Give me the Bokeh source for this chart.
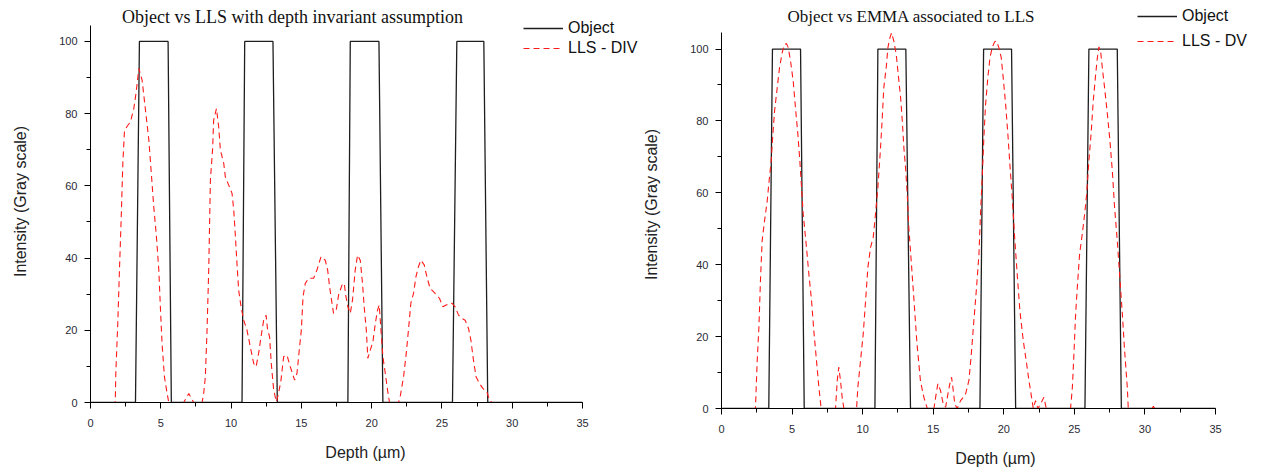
from bokeh.plotting import figure
from bokeh.layouts import row
from bokeh.models import Range1d, SingleIntervalTicker, Legend, LegendItem, Label
from bokeh.embed import file_html
from bokeh.resources import INLINE

# ---------------- data ----------------
# Left chart: Object vs LLS with depth invariant assumption
obj_left_x = [0, 3.20, 3.48, 5.52, 5.75, 10.78, 10.97, 12.98, 13.29,
              18.31, 18.48, 20.52, 20.80, 25.75, 26.06, 27.98, 28.26, 35]
obj_left_y = [0, 0, 100, 100, 0, 0, 100, 100, 0,
              0, 100, 100, 0, 0, 100, 100, 0, 0]

lls_div_x = [0, 1.54, 1.76, 1.80, 1.94, 2.06, 2.18, 2.30, 2.42, 2.61, 2.84, 3.08, 3.25, 3.44,
             3.67, 3.91, 4.15, 4.31, 4.50, 4.69, 4.86, 4.97, 5.09, 5.26, 5.45, 5.57, 6.63,
             6.99, 7.34, 7.94, 8.05, 8.17, 8.29, 8.41, 8.53, 8.69, 8.76, 8.96, 9.12, 9.24,
             9.48, 9.59, 9.83, 10.07, 10.19, 10.31, 10.42, 10.54, 10.71, 10.90, 11.13, 11.37,
             11.61, 11.78, 11.96, 12.13, 12.32, 12.49, 12.60, 12.74, 12.86, 13.03, 13.22,
             13.38, 13.55, 13.74, 13.98, 14.21, 14.52, 14.69, 14.85, 15.00, 15.12, 15.28,
             15.52, 15.87, 16.11, 16.40, 16.70, 16.87, 17.01, 17.18, 17.29, 17.48, 17.65,
             17.89, 18.05, 18.17, 18.31, 18.48, 18.64, 18.83, 19.00, 19.19, 19.35, 19.47,
             19.62, 19.73, 19.90, 20.09, 20.26, 20.42, 20.54, 20.66, 20.80, 20.97, 21.13,
             21.27, 21.91, 22.03, 22.27, 22.46, 22.62, 22.79, 22.98, 23.15, 23.33, 23.50,
             23.74, 23.93, 24.16, 24.52, 24.83, 25.07, 25.30, 25.71, 25.94, 26.18, 26.42,
             26.65, 26.89, 27.06, 27.24, 27.43, 27.67, 27.91, 28.19, 28.38, 28.55, 32.0]
lls_div_y = [0, 0, 0, 8.1, 21.9, 36.7, 50.5, 66.2, 75.4, 76.5, 77.7, 81.4, 86.0, 92.5,
             89.3, 81.0, 72.7, 64.3, 54.2, 45.9, 36.7, 26.5, 16.4, 7.1, 2.5, 0, 0,
             2.5, 0, 0, 2.5, 7.1, 20.0, 36.7, 61.6, 70.4, 78.2, 81.4, 76.3, 69.9,
             66.2, 62.5, 60.2, 57.9, 53.3, 45.9, 38.5, 31.1, 26.5, 22.8, 20.1, 15.4,
             10.8, 9.9, 13.6, 18.2, 22.8, 24.2, 20.1, 18.2, 10.8, 3.5, 0.2,
             2.5, 6.2, 12.7, 13.1, 9.9, 6.2, 8.1, 14.5, 20.1, 29.3, 33.0,
             34.4, 34.4, 36.7, 40.4, 39.4, 36.7, 32.0, 27.5, 24.7, 25.6, 29.8,
             32.5, 33.0, 29.3, 26.5, 24.7, 28.4, 36.7, 40.8, 39.4, 33.0, 26.5,
             20.1, 12.2, 14.5, 16.8, 21.9, 25.6, 27.0, 20.1, 12.7, 8.1, 3.5,
             0, 0, 1.6, 7.1, 13.6, 20.1, 27.5, 30.2, 34.8, 37.6, 39.4,
             38.1, 34.8, 31.6, 30.2, 28.8, 26.5, 27.0, 27.5, 26.5, 24.2, 23.3,
             22.8, 20.5, 17.3, 11.8, 7.1, 5.3, 3.9, 3.0, 0.7, 0, 0]

# Right chart: Object vs EMMA associated to LLS
obj_right_x = [0, 3.35, 3.61, 5.60, 5.86, 10.87, 11.08, 13.06, 13.39,
               18.31, 18.57, 20.55, 20.84, 25.75, 26.03, 28.04, 28.33, 35]
obj_right_y = [0, 0, 100, 100, 0, 0, 100, 100, 0,
               0, 100, 100, 0, 0, 100, 100, 0, 0]

lls_dv_x = [0, 1.70, 2.38, 2.41, 2.46, 2.53, 2.65, 2.76, 2.88, 3.05, 3.24, 3.35, 3.52, 3.64,
            3.76, 3.95, 4.11, 4.30, 4.46, 4.61, 4.73, 4.89, 5.08, 5.24, 5.41, 5.55, 5.67,
            5.79, 6.02, 6.19, 6.38, 6.54, 6.73, 6.90, 7.06, 8.08, 8.20, 8.31, 8.43, 8.55,
            8.67, 9.57, 9.66, 9.85, 10.04, 10.21, 10.37, 10.56, 10.75, 10.91, 11.08, 11.27,
            11.39, 11.50, 11.67, 11.79, 11.93, 12.05, 12.21, 12.38, 12.52, 12.69, 12.81,
            12.92, 13.04, 13.16, 13.27, 13.44, 13.63, 13.85, 14.10, 14.34, 14.58, 15.05,
            15.17, 15.33, 15.52, 15.71, 15.88, 16.04, 16.18, 16.30, 16.42, 16.53, 16.70,
            16.94, 17.13, 17.29, 17.53, 17.70, 17.88, 18.07, 18.24, 18.35, 18.47, 18.59,
            18.71, 18.87, 19.02, 19.18, 19.35, 19.49, 19.65, 19.82, 19.96, 20.13, 20.29,
            20.43, 20.60, 20.77, 20.95, 21.14, 21.38, 21.62, 21.78, 21.97, 22.09, 22.25,
            22.42, 22.73, 22.84, 23.01, 24.73, 24.86, 24.97, 25.09, 25.21, 25.37, 25.56,
            25.73, 25.87, 26.03, 26.20, 26.34, 26.51, 26.63, 26.74, 26.86, 26.98, 27.14,
            27.34, 27.52, 27.69, 27.85, 28.04, 28.22, 28.40, 28.56, 28.75, 28.82, 30.50,
            30.60, 30.70, 31.50]
lls_dv_y = [0, 0, 0, 0.4, 5.9, 13.3, 22.6, 35.6, 46.7, 52.2, 57.8, 62.4, 68.9, 76.3,
            82.8, 89.3, 94.8, 99.0, 101.3, 101.5, 100.4, 96.7, 91.1, 83.7, 76.3, 68.9, 61.5,
            54.1, 44.8, 37.4, 30.0, 21.7, 13.3, 5.9, 0, 0, 7.8, 11.5, 7.8, 3.1,
            0, 0, 5.9, 13.3, 20.7, 30.0, 39.2, 44.8, 47.6, 54.1, 61.5, 72.6,
            80.9, 89.3, 94.8, 100.4, 103.1, 104.5, 102.2, 98.5, 93.0, 86.5, 80.0,
            72.6, 67.0, 59.6, 50.4, 41.1, 30.5, 18.0, 7.5, 3.1, 0, 0,
            3.1, 6.9, 5.0, 1.2, 0.4, 4.0, 6.9, 8.7, 5.0, 1.2, 0,
            2.2, 3.1, 4.0, 7.8, 15.2, 24.4, 33.7, 42.9, 54.1, 64.3, 75.4,
            84.6, 92.0, 97.6, 100.4, 102.0, 102.2, 100.4, 97.6, 92.0, 84.6, 76.3,
            68.0, 58.7, 47.6, 37.4, 27.2, 18.9, 12.4, 7.8, 3.1, 0, 2.2,
            0, 2.2, 3.1, 0, 0, 5.9, 15.2, 26.3, 33.7, 42.9, 48.5,
            54.1, 59.6, 68.9, 77.2, 85.6, 93.0, 97.6, 100.6, 99.4, 94.8, 89.3,
            81.9, 74.5, 66.1, 56.0, 46.7, 36.5, 26.3, 16.1, 5.9, 0, 0,
            0.6, 0, 0]

x_axis_bounds = (0, 35)
x_tick_interval = 5
y_tick_interval = 20

OBJ_COLOR = "#1e1e1e"
RED = "#ff1a1a"
TICK_COLOR = "#2a2a35"


def make_fig(obj_x, obj_y, fit_x, fit_y, title, fit_label, y_top,
             axis_w, axis_h, frame_w, frame_h, bl, bb,
             title_pos, title_size, legend_pos, row_h, row_gap):
    # The frame extends beyond the axes (to the top and right) so that the
    # title and legend can sit in the open area; axes are limited by bounds.
    x_end = x_axis_bounds[1] * frame_w / axis_w
    y_end = y_top * frame_h / axis_h
    p = figure(frame_width=frame_w, frame_height=frame_h,
               min_border_left=bl, min_border_right=0,
               min_border_top=0, min_border_bottom=bb,
               x_range=Range1d(0, x_end), y_range=Range1d(0, y_end),
               output_backend="svg", toolbar_location=None, tools="")
    p.outline_line_color = None
    p.background_fill_color = "white"
    p.border_fill_color = "white"
    p.xgrid.visible = False
    p.ygrid.visible = False

    p.xaxis.ticker = SingleIntervalTicker(interval=x_tick_interval, num_minor_ticks=2)
    p.yaxis.ticker = SingleIntervalTicker(interval=y_tick_interval, num_minor_ticks=2)
    p.xaxis.bounds = x_axis_bounds
    p.yaxis.bounds = (0, y_top)
    for ax in (p.xaxis[0], p.yaxis[0]):
        ax.axis_line_color = "black"
        ax.axis_line_width = 1
        ax.major_tick_line_color = "black"
        ax.minor_tick_line_color = "black"
        ax.major_tick_in = 0
        ax.minor_tick_in = 0
        ax.major_tick_out = 6
        ax.minor_tick_out = 4
        ax.major_label_text_font = "Liberation Sans"
        ax.major_label_text_font_size = "11px"
        ax.major_label_text_color = TICK_COLOR
        ax.axis_label_text_font = "Liberation Sans"
        ax.axis_label_text_font_size = "16px"
        ax.axis_label_text_font_style = "normal"
        ax.axis_label_text_color = "#222222"
    p.xaxis.major_label_standoff = 10
    p.yaxis.major_label_standoff = 7
    p.xaxis.axis_label = "Depth (µm)"
    p.yaxis.axis_label = "Intensity (Gray scale)"
    p.xaxis.axis_label_standoff = 14
    p.yaxis.axis_label_standoff = 27

    r_obj = p.line(obj_x, obj_y, line_color=OBJ_COLOR, line_width=1.3)
    r_fit = p.line(fit_x, fit_y, line_color=RED, line_width=1.1, line_dash="6 4")

    legend = Legend(items=[LegendItem(label="Object", renderers=[r_obj]),
                           LegendItem(label=fit_label, renderers=[r_fit])],
                    location=legend_pos, orientation="vertical",
                    background_fill_alpha=0, border_line_color=None,
                    padding=0, margin=0, spacing=row_gap,
                    glyph_width=40, glyph_height=row_h, label_height=row_h,
                    label_standoff=5,
                    label_text_font="Liberation Sans", label_text_font_size="16px",
                    label_text_color="#111111")
    p.add_layout(legend, "center")

    p.add_layout(Label(x=title_pos[0], y=title_pos[1], x_units="screen", y_units="screen",
                       text=title, text_font="Liberation Serif", text_font_size=title_size,
                       text_color="#111111", text_align="center", text_baseline="middle"))
    return p


# left: axes 492 x 377 px, frame reaches to the figure's top and right edges
left = make_fig(obj_left_x, obj_left_y, lls_div_x, lls_div_y,
                "Object vs LLS with depth invariant assumption", "LLS - DIV", 104.4,
                492, 377, 550, 402, 90, 68,
                (202, 386), "18px", (433, 344), 20, 0)
# right: axes 494 x 376 px
right = make_fig(obj_right_x, obj_right_y, lls_dv_x, lls_dv_y,
                 "Object vs EMMA associated to LLS", "LLS - DV", 104.6,
                 494, 376, 548, 408, 81, 62,
                 (190, 392), "17px", (416, 356), 22, 3)

layout = row(left, right)
open("out.html", "w").write(file_html(layout, INLINE))
